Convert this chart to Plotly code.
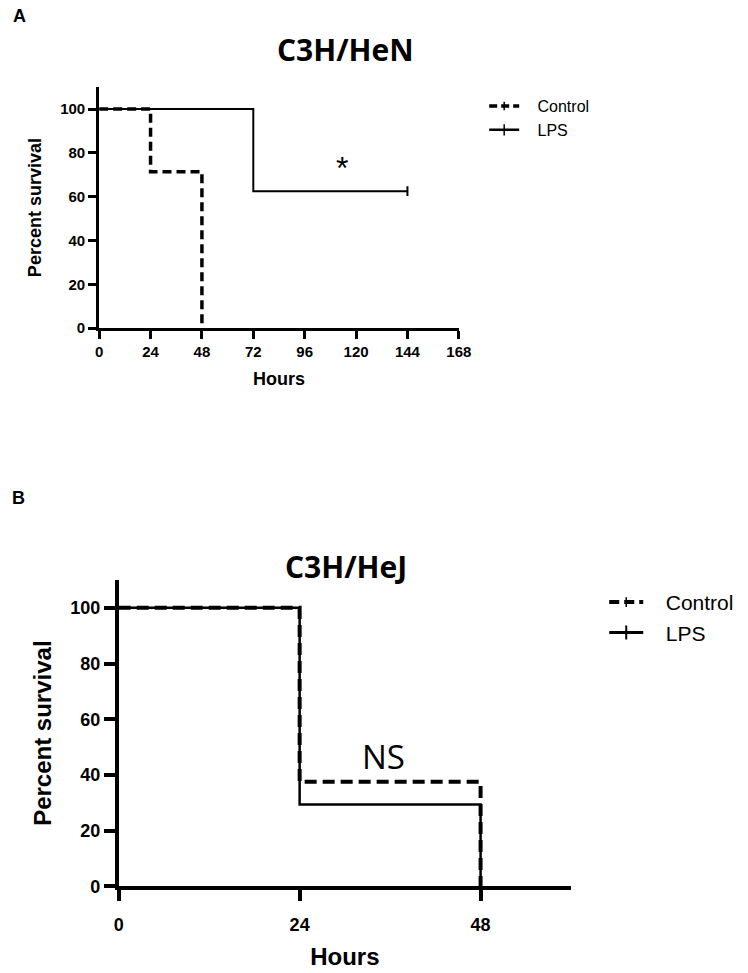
import plotly.graph_objects as go

W, H = 748, 973

# ---------------- data ----------------
# Panel A : C3H/HeN
a_ctrl_hours = [0, 24, 48]
a_ctrl_surv = [100, 71.4, 0]
a_lps_hours = [0, 72, 144]
a_lps_surv = [100, 62.5, 62.5]
a_censor_hours = [144]
a_censor_surv = [62.5]
a_xticks = [0, 24, 48, 72, 96, 120, 144, 168]
a_yticks = [0, 20, 40, 60, 80, 100]

# Panel B : C3H/HeJ
b_ctrl_hours = [0, 24, 48]
b_ctrl_surv = [100, 37.5, 0]
b_lps_hours = [0, 24, 48]
b_lps_surv = [100, 29.4, 0]
b_xticks = [0, 24, 48]
b_yticks = [0, 20, 40, 60, 80, 100]

series_names = ["Control", "LPS"]

FONT = "Liberation Sans, Arial, sans-serif"
TITLE_FONT = "Open Sans, Lato, sans-serif"
NB = "\u00a0"

def px_x(p):
    return p / W

def px_y(p):
    return 1 - p / H

fig = go.Figure()

# Panel A traces
fig.add_trace(go.Scatter(x=a_lps_hours, y=a_lps_surv, mode="lines", line_shape="hv",
                         line=dict(color="black", width=2), showlegend=False,
                         xaxis="x", yaxis="y"))
fig.add_trace(go.Scatter(x=a_censor_hours, y=a_censor_surv, mode="markers",
                         marker=dict(symbol="line-ns", size=7, line=dict(color="black", width=2)),
                         showlegend=False, xaxis="x", yaxis="y"))
fig.add_trace(go.Scatter(x=a_ctrl_hours, y=a_ctrl_surv, mode="lines", line_shape="hv",
                         line=dict(color="black", width=3.5, dash="9px,5px"), showlegend=False,
                         xaxis="x", yaxis="y"))

# Panel B traces
fig.add_trace(go.Scatter(x=b_lps_hours, y=b_lps_surv, mode="lines", line_shape="hv",
                         line=dict(color="black", width=2.5), showlegend=False,
                         xaxis="x2", yaxis="y2"))
fig.add_trace(go.Scatter(x=b_ctrl_hours, y=b_ctrl_surv, mode="lines", line_shape="hv",
                         line=dict(color="black", width=4, dash="12px,6px"), showlegend=False,
                         xaxis="x2", yaxis="y2"))

# Legend entries (A)
fig.add_trace(go.Scatter(x=[None], y=[None], mode="lines+markers", name=NB * 3 + series_names[0],
                         line=dict(color="black", width=3.5, dash="8px,4px"),
                         marker=dict(symbol="line-ns", size=6, line=dict(color="black", width=1.5)),
                         legend="legend", xaxis="x", yaxis="y"))
fig.add_trace(go.Scatter(x=[None], y=[None], mode="lines+markers", name=NB * 3 + series_names[1],
                         line=dict(color="black", width=2.5),
                         marker=dict(symbol="line-ns", size=8, line=dict(color="black", width=1.5)),
                         legend="legend", xaxis="x", yaxis="y"))
# Legend entries (B)
fig.add_trace(go.Scatter(x=[None], y=[None], mode="lines+markers", name=NB * 3 + series_names[0],
                         line=dict(color="black", width=4, dash="10px,5px"),
                         marker=dict(symbol="line-ns", size=7, line=dict(color="black", width=1.5)),
                         legend="legend2", xaxis="x2", yaxis="y2"))
fig.add_trace(go.Scatter(x=[None], y=[None], mode="lines+markers", name=NB * 3 + series_names[1],
                         line=dict(color="black", width=3),
                         marker=dict(symbol="line-ns", size=10, line=dict(color="black", width=2)),
                         legend="legend2", xaxis="x2", yaxis="y2"))

axis_common = dict(showline=True, linecolor="black", showgrid=False, zeroline=False,
                   ticks="outside", tickcolor="black", fixedrange=True)

fig.update_layout(
    width=W, height=H,
    margin=dict(l=0, r=0, t=0, b=0),
    paper_bgcolor="white", plot_bgcolor="white",
    xaxis=dict(axis_common, domain=[px_x(96.5), px_x(465)], range=[0, 168],
               tickvals=a_xticks, linewidth=3, tickwidth=3, ticklen=8,
               tickfont=dict(family=FONT, size=15, color="black", weight="bold"),
               title=dict(text="Hours", font=dict(family=FONT, size=18, color="black", weight="bold"),
                          standoff=14),
               anchor="y"),
    yaxis=dict(axis_common, domain=[px_y(331.5), px_y(88)], range=[0, 110],
               tickvals=a_yticks, linewidth=3, tickwidth=3, ticklen=8,
               tickfont=dict(family=FONT, size=15, color="black", weight="bold"),
               title=dict(text="Percent survival", font=dict(family=FONT, size=18, color="black", weight="bold"),
                          standoff=14),
               anchor="x"),
    xaxis2=dict(axis_common, domain=[px_x(116.5), px_x(580)], range=[0, 60],
                tickvals=b_xticks, linewidth=3.5, tickwidth=3.5, ticklen=11,
                ticklabelstandoff=8,
                tickfont=dict(family=FONT, size=18, color="black", weight="bold"),
                title=dict(text="Hours", font=dict(family=FONT, size=24, color="black", weight="bold"),
                           standoff=16),
                anchor="y2"),
    yaxis2=dict(axis_common, domain=[px_y(895.5), px_y(586)], range=[0, 110],
                tickvals=b_yticks, linewidth=3.5, tickwidth=3.5, ticklen=11,
                tickfont=dict(family=FONT, size=18, color="black", weight="bold"),
                title=dict(text="Percent survival", font=dict(family=FONT, size=24, color="black", weight="bold"),
                           standoff=13),
                anchor="x2"),
    legend=dict(x=px_x(491), y=px_y(90), xanchor="left", yanchor="top",
                font=dict(family=FONT, size=16, color="black"),
                bgcolor="rgba(0,0,0,0)", itemwidth=30, tracegroupgap=0),
    legend2=dict(x=px_x(614), y=px_y(588), xanchor="left", yanchor="top",
                 font=dict(family=FONT, size=21, color="black"),
                 bgcolor="rgba(0,0,0,0)", itemwidth=34, tracegroupgap=0),
    annotations=[
        dict(text="A", x=px_x(15), y=px_y(16), xref="paper", yref="paper", showarrow=False,
             xanchor="center", yanchor="middle",
             font=dict(family=FONT, size=18, color="black", weight="bold")),
        dict(text="B", x=px_x(14), y=px_y(503), xref="paper", yref="paper", showarrow=False,
             xanchor="center", yanchor="middle",
             font=dict(family=FONT, size=18, color="black", weight="bold")),
        dict(text="C3H/HeN", x=px_x(349), y=px_y(50), xref="paper", yref="paper", showarrow=False,
             xanchor="center", yanchor="middle",
             font=dict(family=TITLE_FONT, size=30, color="black", weight="bold")),
        dict(text="C3H/HeJ", x=px_x(349), y=px_y(572), xref="paper", yref="paper", showarrow=False,
             xanchor="center", yanchor="middle",
             font=dict(family=TITLE_FONT, size=30, color="black", weight="bold")),
        dict(text="*", x=113.5, y=73, xref="x", yref="y", showarrow=False,
             xanchor="center", yanchor="middle",
             font=dict(family=FONT, size=32, color="black")),
        dict(text="NS", x=35.1, y=46.5, xref="x2", yref="y2", showarrow=False,
             xanchor="center", yanchor="middle",
             font=dict(family=TITLE_FONT, size=33, color="black")),
    ],
)

fig.write_html("out.html", config={"displayModeBar": False},
               post_script="document.body.style.margin='0';")
